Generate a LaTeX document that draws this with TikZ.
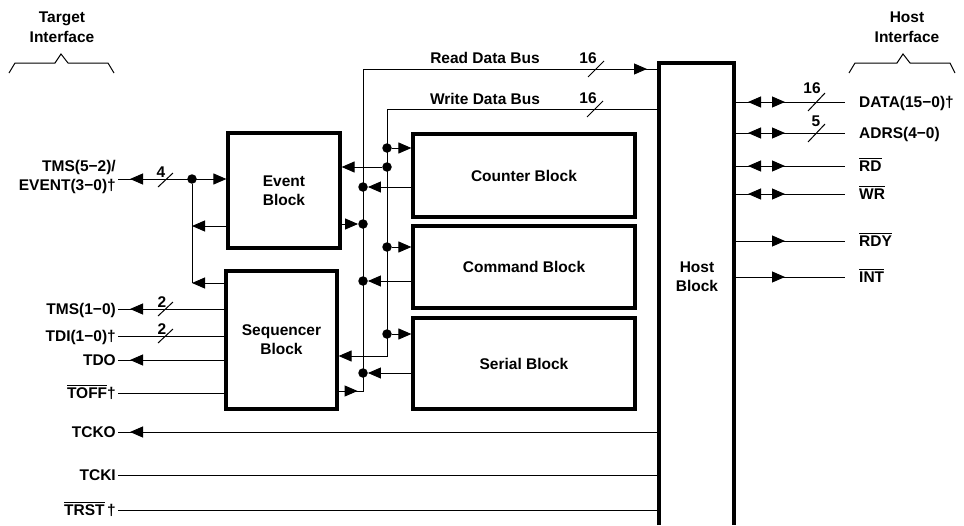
\documentclass[tikz,border=0pt]{standalone}
\usepackage{fontspec}
\setmainfont{Liberation Sans}
\usetikzlibrary{arrows.meta,decorations.markings}
\newcommand\ovl[1]{\vbox{\hrule height 1.3pt\kern1.4pt\hbox{#1}}}
\begin{document}
\begin{tikzpicture}[x=1pt,y=-1pt,
  every node/.style={font=\fontsize{15.5}{19}\selectfont\bfseries, inner sep=0pt},
  wire/.style={line width=1pt},
  blk/.style={draw, line width=3.2pt, inner sep=0pt, align=center},
  tip/.style={-{Triangle[length=13pt,width=11pt]}},
  fwdat/.style={postaction={decorate,decoration={markings,mark=at position #1 with {\arrow{Triangle[length=13pt,width=11pt]}}}}},
  revat/.style={postaction={decorate,decoration={markings,mark=at position #1 with {\arrowreversed{Triangle[length=13pt,width=11pt]}}}}},
  jdot/.style={circle, fill, minimum size=9.5pt, inner sep=0pt},
  lbl/.style={anchor=east, inner xsep=2pt, text height=11pt, text depth=0pt},
  rlbl/.style={anchor=west, text height=11pt, text depth=0pt},
  slash/.style={wire},
]
\useasboundingbox (0,0) rectangle (964,525);

% header labels and braces
\node[align=center] (tgt) at (62,27) {Target\\[1pt]Interface};
\node[align=center] (hst) at (907,27) {Host\\[1pt]Interface};
\draw[wire] (9,73) -- (15,63) -- (55,63) -- (61,54) -- (68,63) -- (108,63) -- (114,73);
\draw[wire] (849,73) -- (855,63) -- (897,63) -- (903,54) -- (910,63) -- (950,63) -- (955,73);

% blocks
\node[blk, minimum width=112pt, minimum height=115pt] (event) at (284,190.5) {Event\\Block};
\node[blk, minimum width=111pt, minimum height=138pt] (seq) at (281.5,340) {Sequencer\\Block};
\node[blk, minimum width=222pt, minimum height=83pt] (counter) at (524,175.5) {Counter Block};
\node[blk, minimum width=222pt, minimum height=82pt] (command) at (524,267) {Command Block};
\node[blk, minimum width=222pt, minimum height=91pt] (serial) at (524,363.5) {Serial Block};
\node[minimum width=75pt, minimum height=462pt, outer sep=0pt] (host) at (696.5,294) {};
\draw[line width=3.2pt] (host.south west) -- (host.north west) -- (host.north east) -- (host.south east);
\node[align=center] (hostl) at (697,276.5) {Host\\Block};

% junction dots
\node[jdot] (d0) at (192,179) {};
\node[jdot] (d1) at (387,148) {};
\node[jdot] (d2) at (387,167) {};
\node[jdot] (d3) at (363,187) {};
\node[jdot] (d4) at (363,224) {};
\node[jdot] (d5) at (387,247) {};
\node[jdot] (d6) at (363,281) {};
\node[jdot] (d7) at (387,334) {};
\node[jdot] (d8) at (363,373) {};
\coordinate (emid) at (192,226);
\coordinate (ebot) at (192,283);
\coordinate (rtop) at (363,69);
\coordinate (rbot) at (363,391);
\coordinate (wtop) at (387,109);
\coordinate (wbot) at (387,356);

% buses
\draw[wire, fwdat=19pt, fwdat=-12pt] (seq.east |- rbot) -- (rbot) -- (rtop) -- (host.west |- rtop);
\draw[wire, tip] (host.west |- wtop) -- (wtop) -- (wbot) -- (seq.east |- wbot);
\node (rdb) at (485,58) {Read Data Bus};
\node (wdb) at (485,99) {Write Data Bus};
\node (n16a) at (588,58) {16};
\draw[slash] (588,77) -- (604,61);
\node (n16b) at (588,98) {16};
\draw[slash] (587,117) -- (603,101);

\draw[wire, tip] (d1) -- (d1 -| counter.west);
\draw[wire, tip] (d2) -- (d2 -| event.east);
\draw[wire, tip] (counter.west |- d3) -- (d3);
\draw[wire, tip] (event.east |- d4) -- (d4);
\draw[wire, tip] (d5) -- (d5 -| command.west);
\draw[wire, tip] (command.west |- d6) -- (d6);
\draw[wire, tip] (d7) -- (d7 -| serial.west);
\draw[wire, tip] (serial.west |- d8) -- (d8);

% left side
\node[lbl, align=right, text height=, text depth=] (tmsev) at (118,177) {TMS(5−2)/\\EVENT(3−0)†};
\draw[wire, revat=12pt, tip] (tmsev.east |- d0) -- (d0 -| event.west);
\node (n4) at (161,172) {4};
\draw[slash] (158,187) -- (173,173);
\draw[wire] (d0) -- (ebot);
\draw[wire, tip] (event.west |- emid) -- (emid);
\draw[wire, tip] (seq.west |- ebot) -- (ebot);

\node[lbl] (tms) at (118,309) {TMS(1−0)};
\draw[wire, revat=12pt] (tms.east) -- (tms.east -| seq.west);
\node (n2a) at (162,302) {2};
\draw[slash] (158,316) -- (173,302);
\node[lbl] (tdi) at (118,336) {TDI(1−0)†};
\draw[wire] (tdi.east) -- (tdi.east -| seq.west);
\node (n2b) at (162,329) {2};
\draw[slash] (158,343) -- (173,329);
\node[lbl] (tdo) at (118,360) {TDO};
\draw[wire, revat=12pt] (tdo.east) -- (tdo.east -| seq.west);
\node[lbl] (toff) at (118,393) {\ovl{TOFF}†};
\draw[wire] (toff.east) -- (toff.east -| seq.west);
\node[lbl] (tcko) at (118,432) {TCKO};
\draw[wire, revat=12pt] (tcko.east) -- (tcko.east -| host.west);
\node[lbl] (tcki) at (118,475) {TCKI};
\draw[wire] (tcki.east) -- (tcki.east -| host.west);
\node[lbl] (trst) at (118,510) {\ovl{TRST}\,†};
\draw[wire] (trst.east) -- (trst.east -| host.west);

% right side
\node[rlbl] (data) at (859,102) {DATA(15−0)†};
\draw[wire, revat=14pt, fwdat=51pt, shorten >=14pt] (host.east |- data.west) -- (data.west);
\node (n16c) at (812,88) {16};
\draw[slash] (808,111) -- (825,93);
\node[rlbl] (adrs) at (859,133) {ADRS(4−0)};
\draw[wire, revat=14pt, fwdat=51pt, shorten >=14pt] (host.east |- adrs.west) -- (adrs.west);
\node (n5) at (816,121) {5};
\draw[slash] (808,142) -- (825,124);
\node[rlbl] (rd) at (859,166) {\ovl{RD}};
\draw[wire, revat=14pt, fwdat=51pt, shorten >=14pt] (host.east |- rd.west) -- (rd.west);
\node[rlbl] (wr) at (859,194) {\ovl{WR}};
\draw[wire, revat=14pt, fwdat=51pt, shorten >=14pt] (host.east |- wr.west) -- (wr.west);
\node[rlbl] (rdy) at (859,241) {\ovl{RDY}};
\draw[wire, fwdat=51pt, shorten >=14pt] (host.east |- rdy.west) -- (rdy.west);
\node[rlbl] (int) at (859,277) {\ovl{INT}};
\draw[wire, fwdat=51pt, shorten >=14pt] (host.east |- int.west) -- (int.west);
\end{tikzpicture}
\end{document}
